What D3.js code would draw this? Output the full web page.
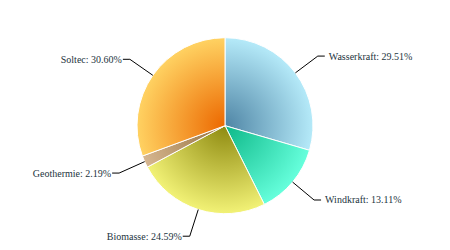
<html>
<head>
    <style>
        body { margin: 0; background-color: white; }
        #chart { width: 450px; height: 250px; }
    </style>
</head>
<body>
    <div id="chart"></div>
    <script src="https://cdn.jsdelivr.net/npm/d3@7"></script>
    <script>
        const categories = ["Wasserkraft", "Windkraft", "Biomasse", "Geothermie", "Soltec"];
        const shares = [29.51, 13.11, 24.59, 2.19, 30.60];
        const edgeColors = ["#b5eaf9", "#66ffdc", "#f2f276", "#d6b690", "#ffd262"];
        const centerColors = ["#4f85a5", "#0db888", "#8e8a10", "#94703c", "#ec6800"];

        const width = 450;
        const height = 250;
        const cx = 225;
        const cy = 125.7;
        const radius = 88;
        const elbow = radius + 28;

        const data = categories.map((name, i) => ({ name, value: shares[i], i }));

        const svg = d3.select('#chart').append('svg')
            .attr('width', width)
            .attr('height', height);

        const defs = svg.append('defs');
        data.forEach(d => {
            const g = defs.append('radialGradient')
                .attr('id', 'grad' + d.i)
                .attr('gradientUnits', 'userSpaceOnUse')
                .attr('cx', 0).attr('cy', 0).attr('r', radius);
            g.append('stop').attr('offset', '0%').attr('stop-color', centerColors[d.i]);
            g.append('stop').attr('offset', '100%').attr('stop-color', edgeColors[d.i]);
        });

        const pie = d3.pie().sort(null).value(d => d.value);
        const arc = d3.arc().innerRadius(0).outerRadius(radius);
        const arcs = pie(data);

        const g = svg.append('g').attr('transform', `translate(${cx}, ${cy})`);

        g.selectAll('.slice')
            .data(arcs)
            .enter()
            .append('path')
            .attr('class', 'slice')
            .attr('d', arc)
            .attr('fill', d => `url(#grad${d.data.i})`)
            .attr('stroke', 'white')
            .attr('stroke-width', 1)
            .attr('stroke-linejoin', 'round');

        const pos = (a, r) => [Math.sin(a) * r, -Math.cos(a) * r];

        arcs.forEach(d => {
            const mid = (d.startAngle + d.endAngle) / 2;
            const p0 = pos(mid, radius);
            const p1 = pos(mid, elbow);
            const right = Math.sin(mid) >= 0;
            const p2 = [p1[0] + (right ? 7 : -7), p1[1]];

            g.append('path')
                .attr('d', d3.line()([p0, p1, p2]))
                .attr('fill', 'none')
                .attr('stroke', '#000')
                .attr('stroke-width', 1);

            g.append('text')
                .attr('x', p2[0] + (right ? 4 : -1))
                .attr('y', p2[1])
                .attr('dy', '0.35em')
                .attr('text-anchor', right ? 'start' : 'end')
                .attr('font-family', 'Liberation Serif, serif')
                .attr('font-size', '10px')
                .attr('fill', '#1c3440')
                .text(`${d.data.name}: ${d.data.value.toFixed(2)}%`);
        });
    </script>
</body>
</html>
